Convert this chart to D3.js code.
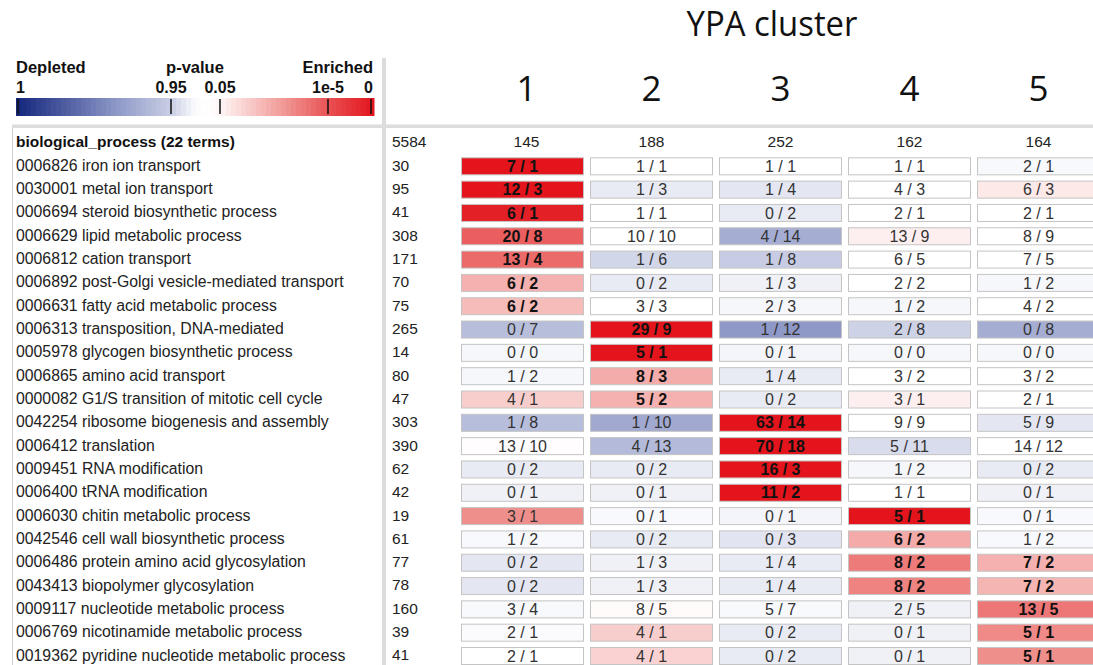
<!DOCTYPE html>
<html>
<head>
<meta charset="utf-8">
<script src="https://cdn.jsdelivr.net/npm/d3@7"></script>
<style>
  body { margin: 0; background: #fff; }
  svg { display: block; }
</style>
</head>
<body>
<div id="chart"></div>
<script>
// GO terms (rows) and their sizes in the genome
const termIds = ["0006826", "0030001", "0006694", "0006629", "0006812", "0006892", "0006631", "0006313",
  "0005978", "0006865", "0000082", "0042254", "0006412", "0009451", "0006400", "0006030",
  "0042546", "0006486", "0043413", "0009117", "0006769", "0019362"];
const termNames = ["iron ion transport", "metal ion transport", "steroid biosynthetic process",
  "lipid metabolic process", "cation transport", "post-Golgi vesicle-mediated transport",
  "fatty acid metabolic process", "transposition, DNA-mediated", "glycogen biosynthetic process",
  "amino acid transport", "G1/S transition of mitotic cell cycle", "ribosome biogenesis and assembly",
  "translation", "RNA modification", "tRNA modification", "chitin metabolic process",
  "cell wall biosynthetic process", "protein amino acid glycosylation", "biopolymer glycosylation",
  "nucleotide metabolic process", "nicotinamide metabolic process", "pyridine nucleotide metabolic process"];
const termSizes = [30, 95, 41, 308, 171, 70, 75, 265, 14, 80, 47, 303, 390, 62, 42, 19, 61, 77, 78, 160, 39, 41];
const genomeSize = 5584;
const groupLabel = "biological_process (22 terms)";

// clusters (columns)
const clusters = ["1", "2", "3", "4", "5"];
const clusterSizes = [145, 188, 252, 162, 164];

// observed / expected counts per cluster
const observed = [
  [7, 12, 6, 20, 13, 6, 6, 0, 0, 1, 4, 1, 13, 0, 0, 3, 1, 0, 0, 3, 2, 2],
  [1, 1, 1, 10, 1, 0, 3, 29, 5, 8, 5, 1, 4, 0, 0, 0, 0, 1, 1, 8, 4, 4],
  [1, 1, 0, 4, 1, 1, 2, 1, 0, 1, 0, 63, 70, 16, 11, 0, 0, 1, 1, 5, 0, 0],
  [1, 4, 2, 13, 6, 2, 1, 2, 0, 3, 3, 9, 5, 1, 1, 5, 6, 8, 8, 2, 0, 0],
  [2, 6, 2, 8, 7, 1, 4, 0, 0, 3, 2, 5, 14, 0, 0, 0, 1, 7, 7, 13, 5, 5]
];
const expected = [
  [1, 3, 1, 8, 4, 2, 2, 7, 0, 2, 1, 8, 10, 2, 1, 1, 2, 2, 2, 4, 1, 1],
  [1, 3, 1, 10, 6, 2, 3, 9, 1, 3, 2, 10, 13, 2, 1, 1, 2, 3, 3, 5, 1, 1],
  [1, 4, 2, 14, 8, 3, 3, 12, 1, 4, 2, 14, 18, 3, 2, 1, 3, 4, 4, 7, 2, 2],
  [1, 3, 1, 9, 5, 2, 2, 8, 0, 2, 1, 9, 11, 2, 1, 1, 2, 2, 2, 5, 1, 1],
  [1, 3, 1, 9, 5, 2, 2, 8, 0, 2, 1, 9, 12, 2, 1, 1, 2, 2, 2, 5, 1, 1]
];
// colour level read from the cells: -1 strongly depleted ... 0 neutral ... 1 strongly enriched
const shade = [
  [1, 1, 0.95, 0.7, 0.65, 0.35, 0.3, -0.32, -0.04, -0.04, 0.22, -0.32, 0.01, -0.1, -0.07, 0.5, -0.03, -0.12, -0.12, -0.03, -0.02, 0],
  [0, -0.1, 0, 0, -0.2, -0.1, 0, 1, 1, 0.37, 0.35, -0.42, -0.34, -0.1, -0.07, -0.03, -0.1, -0.07, -0.07, 0.02, 0.22, 0.2],
  [0, -0.12, -0.1, -0.4, -0.25, -0.07, -0.04, -0.5, -0.05, -0.1, -0.1, 1, 1, 1, 1, -0.05, -0.13, -0.1, -0.1, -0.03, -0.1, -0.1],
  [0, 0, 0, 0.07, 0, 0, -0.04, -0.22, -0.04, 0, 0.07, 0, -0.17, -0.04, 0, 1, 0.38, 0.58, 0.55, -0.07, -0.07, -0.07],
  [-0.03, 0.1, 0, 0, 0, -0.04, 0, -0.4, -0.04, 0, 0, -0.12, 0, -0.1, -0.07, -0.03, -0.03, 0.35, 0.33, 0.6, 0.52, 0.5]
];
// significantly enriched (bold label)
const significant = [
  [1, 1, 1, 1, 1, 1, 1, 0, 0, 0, 0, 0, 0, 0, 0, 0, 0, 0, 0, 0, 0, 0],
  [0, 0, 0, 0, 0, 0, 0, 1, 1, 1, 1, 0, 0, 0, 0, 0, 0, 0, 0, 0, 0, 0],
  [0, 0, 0, 0, 0, 0, 0, 0, 0, 0, 0, 1, 1, 1, 1, 0, 0, 0, 0, 0, 0, 0],
  [0, 0, 0, 0, 0, 0, 0, 0, 0, 0, 0, 0, 0, 0, 0, 1, 1, 1, 1, 0, 0, 0],
  [0, 0, 0, 0, 0, 0, 0, 0, 0, 0, 0, 0, 0, 0, 0, 0, 0, 1, 1, 1, 1, 1]
];

// legend
const legendTickLabels = ["1", "0.95", "0.05", "1e-5", "0"];

const width = 1093, height = 665;
const labelFont = "'Liberation Sans', Arial, sans-serif";
const titleFont = "'Open Sans', 'Noto Sans', sans-serif";

const svg = d3.select("#chart")
  .append("svg")
  .attr("width", width)
  .attr("height", height);

const color = d3.scaleLinear()
  .domain([-1, -0.5, 0, 0.5, 1])
  .range(["#13257c", "#8f99c8", "#ffffff", "#ef8f8c", "#e3141c"]);

// scales
const x = d3.scaleBand()
  .domain(clusters)
  .range([458, 1103])
  .paddingInner(6 / 129)
  .paddingOuter(3 / 129);

const rowKeys = ["total"].concat(termIds);
const y = d3.scalePoint()
  .domain(rowKeys)
  .range([142, 655]);

// frame lines
svg.append("rect")
  .attr("x", 12).attr("y", 128)
  .attr("width", 1).attr("height", height - 128)
  .attr("fill", "#cfcfcf");

svg.append("rect")
  .attr("x", 382).attr("y", 58)
  .attr("width", 4).attr("height", height - 58)
  .attr("fill", "#dcdcdc");

svg.append("rect")
  .attr("x", 12).attr("y", 124.5)
  .attr("width", width - 12).attr("height", 3.5)
  .attr("fill", "#dcdcdc");

// title
svg.append("text")
  .attr("x", 772)
  .attr("y", 36)
  .attr("text-anchor", "middle")
  .attr("font-family", titleFont)
  .attr("font-size", "34px")
  .attr("textLength", 171)
  .attr("lengthAdjust", "spacingAndGlyphs")
  .attr("fill", "#111")
  .text("YPA cluster");

// cluster headers
svg.selectAll(".col-label")
  .data(clusters)
  .enter()
  .append("text")
  .attr("class", "col-label")
  .attr("x", (d, i) => x(d) + x.bandwidth() / 2 + (i === 0 ? 4 : 0))
  .attr("y", 101)
  .attr("text-anchor", "middle")
  .attr("font-family", titleFont)
  .attr("font-size", "35px")
  .attr("fill", "#111")
  .text(d => d);

// legend
const legend = svg.append("g");
const legendLevel = d3.scaleLinear()
  .domain([16, 171, 195, 207, 220, 328, 374])
  .range([-1, -0.24, -0.02, 0.0, 0.04, 0.75, 1]);
const bands = d3.range(16, 374, 5);
legend.selectAll(".band")
  .data(bands)
  .enter()
  .append("rect")
  .attr("class", "band")
  .attr("x", d => d)
  .attr("y", 98)
  .attr("width", d => Math.min(5, 374 - d) + 0.5)
  .attr("height", 18)
  .attr("fill", d => color(legendLevel(d + 2.5)));

const tickX = [18, 171, 220, 328, 371];
legend.selectAll(".ltick")
  .data(tickX)
  .enter()
  .append("line")
  .attr("class", "ltick")
  .attr("x1", d => d).attr("x2", d => d)
  .attr("y1", 99).attr("y2", 114)
  .attr("stroke", "#111")
  .attr("stroke-width", 1.5);

legend.selectAll(".ltext")
  .data(legendTickLabels)
  .enter()
  .append("text")
  .attr("class", "ltext")
  .attr("x", (d, i) => i === 0 ? 16 : (i === 4 ? 373 : tickX[i]))
  .attr("y", 93)
  .attr("text-anchor", (d, i) => i === 0 ? "start" : (i === 4 ? "end" : "middle"))
  .attr("font-family", labelFont)
  .attr("font-weight", "bold")
  .attr("font-size", "16px")
  .attr("fill", "#111")
  .text(d => d);

[["Depleted", 16, "start"], ["p-value", 195, "middle"], ["Enriched", 373, "end"]].forEach(t => {
  legend.append("text")
    .attr("x", t[1])
    .attr("y", 73)
    .attr("text-anchor", t[2])
    .attr("font-family", labelFont)
    .attr("font-weight", "bold")
    .attr("font-size", "16.5px")
    .attr("fill", "#111")
    .text(t[0]);
});

// header row: group label and totals
svg.append("text")
  .attr("x", 16)
  .attr("y", y("total"))
  .attr("dy", "0.35em")
  .attr("font-family", labelFont)
  .attr("font-weight", "bold")
  .attr("font-size", "15.5px")
  .attr("fill", "#111")
  .text(groupLabel);

svg.append("text")
  .attr("x", 392)
  .attr("y", y("total"))
  .attr("dy", "0.35em")
  .attr("font-family", labelFont)
  .attr("font-size", "15.5px")
  .attr("fill", "#222")
  .text(genomeSize);

svg.selectAll(".col-total")
  .data(clusters)
  .enter()
  .append("text")
  .attr("class", "col-total")
  .attr("x", (d, i) => x(d) + x.bandwidth() / 2 + (i === 0 ? 4 : 0))
  .attr("y", y("total"))
  .attr("dy", "0.35em")
  .attr("text-anchor", "middle")
  .attr("font-family", labelFont)
  .attr("font-size", "15.5px")
  .attr("fill", "#222")
  .text((d, i) => clusterSizes[i]);

// term labels and sizes
svg.selectAll(".term")
  .data(termIds)
  .enter()
  .append("text")
  .attr("class", "term")
  .attr("x", 16)
  .attr("y", d => y(d))
  .attr("dy", "0.35em")
  .attr("font-family", labelFont)
  .attr("font-size", "15.8px")
  .attr("fill", "#222")
  .text((d, i) => d + " " + termNames[i]);

svg.selectAll(".term-size")
  .data(termIds)
  .enter()
  .append("text")
  .attr("class", "term-size")
  .attr("x", 392)
  .attr("y", d => y(d))
  .attr("dy", "0.35em")
  .attr("font-family", labelFont)
  .attr("font-size", "15.5px")
  .attr("fill", "#222")
  .text((d, i) => termSizes[i]);

// cells
const cells = [];
clusters.forEach((c, ci) => {
  termIds.forEach((t, ti) => {
    cells.push({
      cluster: c, term: t,
      obs: observed[ci][ti], exp: expected[ci][ti],
      level: shade[ci][ti], sig: significant[ci][ti] === 1
    });
  });
});

const cell = svg.selectAll(".cell")
  .data(cells)
  .enter()
  .append("g")
  .attr("class", "cell");

cell.append("rect")
  .attr("x", d => x(d.cluster) + 0.5)
  .attr("y", d => y(d.term) - 7.5)
  .attr("width", x.bandwidth() - 1)
  .attr("height", 17)
  .attr("fill", d => color(d.level))
  .attr("stroke", "#c4c4c4")
  .attr("stroke-width", 1);

cell.append("text")
  .attr("x", d => x(d.cluster) + x.bandwidth() / 2)
  .attr("y", d => y(d.term) + 1)
  .attr("dy", "0.35em")
  .attr("text-anchor", "middle")
  .attr("font-family", labelFont)
  .attr("font-size", "16px")
  .attr("font-weight", d => d.sig ? "bold" : "normal")
  .attr("fill", d => d.sig ? "#111" : "#333")
  .text(d => d.obs + " / " + d.exp);
</script>
</body>
</html>
